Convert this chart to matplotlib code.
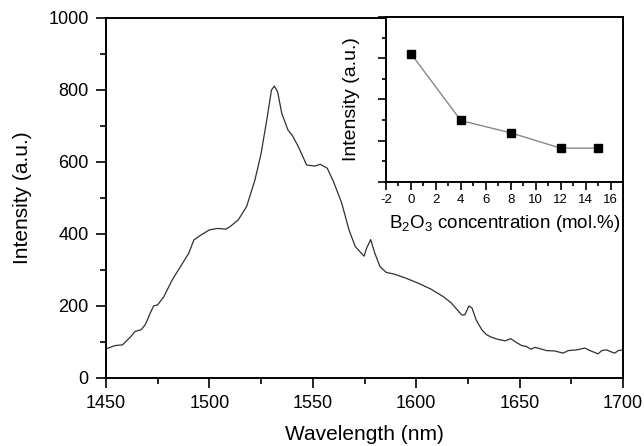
import matplotlib
matplotlib.use("Agg")
import matplotlib.pyplot as plt
from matplotlib.ticker import MultipleLocator, NullFormatter

plt.rcParams['font.family'] = ['Liberation Sans', 'DejaVu Sans']
plt.rcParams['mathtext.fontset'] = 'custom'
plt.rcParams['mathtext.rm'] = 'Liberation Sans'
plt.rcParams['mathtext.it'] = 'Liberation Sans'
plt.rcParams['axes.unicode_minus'] = False

# Main spectrum
wavelength = [1450, 1454.4, 1458, 1462, 1464, 1467, 1469, 1471, 1473, 1475, 1478, 1482,
              1486, 1490, 1492.5, 1496, 1500, 1504, 1508, 1510, 1514, 1518, 1522, 1525,
              1528, 1530, 1531.4, 1533, 1535, 1538, 1540, 1543, 1547, 1551, 1553.6, 1557,
              1560, 1564, 1567.5, 1570.5, 1574.8, 1576, 1578, 1580, 1582.5, 1585.5, 1589.5,
              1595, 1601, 1607, 1613, 1617, 1622, 1623.5, 1625.5, 1627, 1629, 1631.7, 1634,
              1636.5, 1639, 1643, 1645.7, 1648.6, 1651, 1653.4, 1655.5, 1657.5, 1660, 1663,
              1667, 1671, 1673.5, 1677.6, 1681.6, 1684, 1688, 1689.7, 1692, 1694.5, 1696,
              1697.7, 1700]
intensity = [81, 90, 92, 115, 129, 134, 148, 175, 200, 203, 226, 272,
             309, 346, 383, 397, 411, 415, 413, 420, 439, 476, 549, 623,
             725, 799, 810, 794, 734, 688, 674, 642, 591, 588, 593, 582,
             545, 485, 411, 365, 338, 360, 384, 346, 309, 293, 288,
             277, 263, 247, 226, 208, 175, 175, 200, 194, 161, 134, 120,
             113, 108, 103, 109, 98, 90, 87, 80, 85, 81, 76,
             75, 69, 76, 78, 83, 76, 67, 76, 78, 72, 69,
             76, 78]

# Inset
conc = [0, 4, 8, 12, 15]
inset_intensity = [3.11, 1.49, 1.19, 0.82, 0.82]

fig = plt.figure(figsize=(6.44, 4.46), dpi=100)
ax = fig.add_axes([0.1646, 0.1525, 0.8028, 0.808])
ax.plot(wavelength, intensity, color='#303030', lw=0.9)
ax.set_xlim(1450, 1700)
ax.set_ylim(0, 1000)
ax.xaxis.set_major_locator(MultipleLocator(50))
ax.xaxis.set_minor_locator(MultipleLocator(25))
ax.yaxis.set_major_locator(MultipleLocator(200))
ax.yaxis.set_minor_locator(MultipleLocator(100))
ax.tick_params(which='both', direction='out', top=False, right=False, labelsize=13, width=1.2)
ax.tick_params(which='major', length=7.5, pad=5)
ax.tick_params(which='minor', length=4)
for s in ax.spines.values():
    s.set_linewidth(1.4)
ax.set_xlabel('Wavelength (nm)', fontsize=15, labelpad=9)
ax.set_ylabel('Intensity (a.u.)', fontsize=15, labelpad=12)

ins = fig.add_axes([0.5994, 0.592, 0.368, 0.370])
ins.plot(conc, inset_intensity, color='#888888', lw=1.0, marker='s', ms=5.8,
         mfc='black', mec='black')
ins.set_xlim(-2, 17)
ins.set_ylim(0, 4)
ins.xaxis.set_major_locator(MultipleLocator(2))
ins.xaxis.set_minor_locator(MultipleLocator(1))
ins.yaxis.set_major_locator(MultipleLocator(1))
ins.yaxis.set_minor_locator(MultipleLocator(0.5))
ins.yaxis.set_major_formatter(NullFormatter())
ins.tick_params(which='both', direction='out', top=False, right=False, labelsize=9.5, width=1.2, pad=3)
ins.tick_params(which='major', length=5.5)
ins.tick_params(which='minor', length=3)
for s in ins.spines.values():
    s.set_linewidth(1.4)
ins.set_xlabel(r'B$_\mathregular{2}$O$_\mathregular{3}$ concentration (mol.%)', fontsize=13.5, labelpad=5)
ins.set_ylabel('Intensity (a.u.)', fontsize=14, labelpad=10)

fig.savefig('out.png', dpi=100)
